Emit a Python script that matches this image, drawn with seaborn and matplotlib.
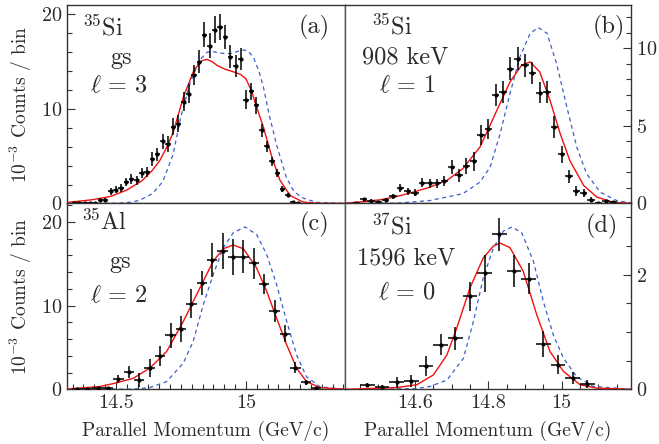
import numpy as np
import pandas as pd
import matplotlib
matplotlib.use("Agg")
import matplotlib.pyplot as plt
from matplotlib.ticker import MultipleLocator, FixedLocator
import seaborn as sns

# ---------------- data ----------------
# (a) 35Si gs, l=3
a_x = [14.34, 14.36, 14.38, 14.40, 14.42, 14.44, 14.46, 14.48, 14.50, 14.52, 14.54, 14.56,
       14.58, 14.60, 14.62, 14.64, 14.66, 14.68, 14.70, 14.72, 14.74, 14.76, 14.78, 14.80,
       14.82, 14.84, 14.86, 14.88, 14.90, 14.92, 14.94, 14.96, 14.98, 15.00, 15.02, 15.04,
       15.06, 15.08, 15.10, 15.12, 15.14, 15.16, 15.18, 15.20]
a_y = [0.0, 0.0, 0.05, 0.05, 0.1, 0.35, 0.4, 1.3, 1.45, 1.65, 2.3, 2.6,
       2.45, 3.2, 3.35, 4.7, 5.2, 6.6, 6.3, 8.1, 8.45, 10.75, 11.6, 13.6,
       15.0, 17.85, 16.7, 18.4, 18.65, 17.6, 15.55, 14.55, 15.3, 11.0, 11.85, 10.4,
       7.75, 6.05, 4.45, 3.2, 1.5, 0.95, 0.15, 0.0]
a_err = [0.05, 0.05, 0.08, 0.08, 0.1, 0.2, 0.2, 0.35, 0.35, 0.4, 0.45, 0.5,
         0.5, 0.55, 0.55, 0.7, 0.7, 0.8, 0.8, 0.9, 0.9, 1.0, 1.0, 1.1,
         1.2, 1.3, 1.3, 1.4, 1.4, 1.3, 1.2, 1.2, 1.2, 1.0, 0.9, 0.9,
         0.7, 0.6, 0.45, 0.4, 0.3, 0.2, 0.1, 0.05]
a_red_x = [14.312, 14.36, 14.41, 14.48, 14.54, 14.60, 14.64, 14.67, 14.70, 14.72, 14.76, 14.80,
           14.83, 14.85, 14.87, 14.89, 14.92, 14.95, 14.98, 15.00, 15.02, 15.04, 15.067, 15.10,
           15.13, 15.17, 15.22, 15.28, 15.381]
a_red_y = [0.12, 0.25, 0.4, 0.75, 1.4, 2.4, 3.5, 4.6, 6.2, 7.5, 11.3, 14.1,
           15.1, 15.25, 15.0, 14.6, 14.2, 13.95, 13.65, 13.2, 12.0, 10.3, 8.1, 4.9,
           2.5, 0.85, 0.15, 0.02, 0.0]
a_blue_x = [14.312, 14.50, 14.55, 14.59, 14.64, 14.68, 14.72, 14.75, 14.785, 14.82, 14.85, 14.87,
            14.90, 14.94, 14.97, 14.99, 15.01, 15.03, 15.05, 15.067, 15.09, 15.12, 15.155, 15.18,
            15.21, 15.27, 15.381]
a_blue_y = [0.0, 0.02, 0.12, 0.32, 1.03, 2.3, 5.2, 9.2, 12.7, 15.1, 16.0, 16.1,
            15.9, 15.85, 16.1, 16.25, 16.1, 15.4, 14.0, 12.35, 9.3, 6.0, 2.8, 1.5,
            0.67, 0.12, 0.0]

# (b) 35Si 908 keV, l=1
b_x = [14.44, 14.46, 14.48, 14.50, 14.52, 14.54, 14.56, 14.58, 14.60, 14.62, 14.64, 14.66,
       14.68, 14.70, 14.72, 14.74, 14.76, 14.78, 14.80, 14.82, 14.84, 14.86, 14.88, 14.90,
       14.92, 14.94, 14.96, 14.98, 15.00, 15.02, 15.04, 15.06, 15.08, 15.10, 15.12, 15.14]
b_y = [0.05, 0.26, 0.19, 0.09, 0.24, 0.47, 1.01, 0.8, 0.69, 1.34, 1.31, 1.31,
       1.44, 2.35, 1.81, 2.41, 2.71, 4.44, 4.83, 6.98, 7.2, 8.7, 9.35, 8.92,
       8.42, 7.15, 7.2, 4.93, 3.17, 1.75, 0.8, 0.69, 0.24, 0.05, 0.13, 0.09]
b_err = [0.05, 0.1, 0.1, 0.08, 0.1, 0.15, 0.25, 0.22, 0.22, 0.3, 0.3, 0.3,
         0.32, 0.43, 0.4, 0.5, 0.6, 0.65, 0.65, 0.7, 0.7, 0.75, 0.75, 0.75,
         0.7, 0.7, 0.7, 0.7, 0.55, 0.4, 0.3, 0.25, 0.15, 0.05, 0.1, 0.08]
b_red_x = [14.409, 14.46, 14.505, 14.55, 14.595, 14.64, 14.687, 14.73, 14.777, 14.80, 14.823,
           14.859, 14.891, 14.914, 14.94, 14.968, 14.996, 15.022, 15.06, 15.096, 15.141, 15.189]
b_red_y = [0.02, 0.12, 0.24, 0.45, 0.73, 1.05, 1.49, 2.24, 3.64, 4.8, 6.0,
           7.84, 8.92, 9.13, 8.49, 6.66, 4.5, 2.78, 1.16, 0.41, 0.08, 0.01]
b_blue_x = [14.409, 14.55, 14.64, 14.73, 14.777, 14.805, 14.832, 14.859, 14.886, 14.914, 14.936,
            14.96, 14.986, 15.014, 15.041, 15.068, 15.105, 15.15, 15.189]
b_blue_y = [0.0, 0.02, 0.19, 0.63, 1.38, 2.35, 4.5, 7.09, 9.46, 10.97, 11.35,
            10.97, 9.03, 6.23, 3.64, 1.92, 0.73, 0.19, 0.03]

# (c) 35Al gs, l=2
c_x = [14.35, 14.39, 14.43, 14.47, 14.51, 14.55, 14.59, 14.63, 14.67, 14.71, 14.75, 14.79,
       14.83, 14.87, 14.91, 14.95, 14.99, 15.03, 15.07, 15.11, 15.15, 15.19, 15.23, 15.27]
c_y = [0.0, 0.05, 0.12, 0.1, 1.2, 2.04, 1.12, 2.52, 4.0, 6.44, 7.2, 10.24,
       12.72, 15.44, 16.52, 15.8, 15.85, 15.04, 12.6, 9.32, 6.64, 2.6, 0.84, 0.12]
c_err = [0.05, 0.08, 0.1, 0.1, 0.5, 0.7, 0.86, 1.06, 1.2, 1.5, 1.6, 1.7,
         1.4, 2.0, 2.2, 2.2, 2.0, 1.9, 1.2, 1.3, 1.0, 0.7, 0.3, 0.1]
c_red_x = [14.312, 14.438, 14.50, 14.567, 14.63, 14.695, 14.759, 14.823, 14.874, 14.913,
           14.951, 14.99, 15.041, 15.08, 15.118, 15.157, 15.195, 15.233, 15.285, 15.381]
c_red_y = [0.04, 0.32, 0.75, 1.32, 2.52, 4.51, 8.1, 12.1, 15.3, 16.8,
           17.24, 16.8, 14.5, 11.7, 8.5, 5.3, 2.52, 0.92, 0.2, 0.0]
c_blue_x = [14.312, 14.567, 14.63, 14.695, 14.759, 14.797, 14.836, 14.874, 14.913, 14.951,
            14.996, 15.041, 15.08, 15.118, 15.157, 15.195, 15.233, 15.285, 15.381]
c_blue_y = [0.0, 0.02, 0.2, 0.92, 3.12, 5.7, 10.1, 13.7, 16.9, 18.7,
            19.4, 18.5, 16.1, 12.5, 8.1, 4.1, 1.5, 0.3, 0.0]

# (d) 37Si 1596 keV, l=0
d_x = [14.47, 14.51, 14.55, 14.59, 14.63, 14.67, 14.71, 14.75, 14.79, 14.83, 14.87, 14.91,
       14.95, 14.99, 15.03, 15.07]
d_y = [0.075, 0.035, 0.12, 0.145, 0.41, 0.78, 0.89, 1.62, 2.02, 2.70, 2.07, 1.93,
       0.79, 0.43, 0.2, 0.1]
d_err = [0.04, 0.04, 0.1, 0.1, 0.17, 0.18, 0.2, 0.25, 0.32, 0.29, 0.28, 0.27,
         0.23, 0.17, 0.1, 0.07]
d_red_x = [14.409, 14.55, 14.605, 14.65, 14.687, 14.714, 14.75, 14.786, 14.814, 14.832,
           14.859, 14.895, 14.932, 14.968, 15.005, 15.05, 15.096, 15.189]
d_red_y = [0.0, 0.03, 0.08, 0.25, 0.6, 1.07, 1.77, 2.29, 2.5, 2.55,
           2.47, 2.06, 1.3, 0.66, 0.31, 0.08, 0.02, 0.0]
d_blue_x = [14.409, 14.60, 14.641, 14.687, 14.732, 14.759, 14.786, 14.814, 14.841, 14.864,
            14.891, 14.923, 14.95, 14.977, 15.005, 15.041, 15.086, 15.189]
d_blue_y = [0.0, 0.01, 0.05, 0.16, 0.54, 1.18, 1.94, 2.47, 2.76, 2.83,
            2.73, 2.23, 1.53, 0.95, 0.54, 0.22, 0.05, 0.0]

xerr_a, xerr_b, xerr_c, xerr_d = 0.01, 0.01, 0.02, 0.02

labels_a = [r"$^{35}$Si", "gs", r"$\ell\,=\,3$", "(a)"]
labels_b = [r"$^{35}$Si", "908 keV", r"$\ell\,=\,1$", "(b)"]
labels_c = [r"$^{35}$Al", "gs", r"$\ell\,=\,2$", "(c)"]
labels_d = [r"$^{37}$Si", "1596 keV", r"$\ell\,=\,0$", "(d)"]

xlabel = "Parallel Momentum (GeV/c)"
ylabel = r"10$^{-3}$ Counts / bin"

# ---------------- style ----------------
sns.set_theme(style="ticks")
plt.rcParams["font.family"] = ["cmr10", "DejaVu Serif"]
plt.rcParams["mathtext.fontset"] = "cm"
plt.rcParams["axes.formatter.use_mathtext"] = True
plt.rcParams["axes.unicode_minus"] = False

TXT = "#2a2a2a"
RED = "#f01010"
BLUE = "#3a5fc8"

W, H = 659, 444
fig = plt.figure(figsize=(W / 100, H / 100), dpi=100)

xl, xm, xr = 67 / W, 345 / W, 631 / W
yb, ym, yt = 1 - 389.3 / H, 1 - 203.5 / H, 1 - 5 / H

ax_a = fig.add_axes([xl, ym, xm - xl, yt - ym])
ax_b = fig.add_axes([xm, ym, xr - xm, yt - ym])
ax_c = fig.add_axes([xl, yb, xm - xl, ym - yb])
ax_d = fig.add_axes([xm, yb, xr - xm, ym - yb])

panels = [
    (ax_a, a_x, a_y, a_err, xerr_a, a_red_x, a_red_y, a_blue_x, a_blue_y, labels_a),
    (ax_b, b_x, b_y, b_err, xerr_b, b_red_x, b_red_y, b_blue_x, b_blue_y, labels_b),
    (ax_c, c_x, c_y, c_err, xerr_c, c_red_x, c_red_y, c_blue_x, c_blue_y, labels_c),
    (ax_d, d_x, d_y, d_err, xerr_d, d_red_x, d_red_y, d_blue_x, d_blue_y, labels_d),
]

for ax, px, py, pe, xe, rx, ry, bx, by, labs in panels:
    sns.lineplot(x=bx, y=by, ax=ax, color=BLUE, lw=0.9, linestyle=(0, (3.2, 2.8)),
                 sort=False, estimator=None, zorder=2)
    sns.lineplot(x=rx, y=ry, ax=ax, color=RED, lw=1.0, sort=False, estimator=None, zorder=3)
    ax.errorbar(px, py, yerr=pe, xerr=xe, fmt="o", ms=2.0, color="black",
                ecolor="black", elinewidth=1.1, capsize=0, zorder=4)
    for s in ax.spines.values():
        s.set_color("#333333")
        s.set_linewidth(1.0)
    ax.tick_params(which="both", direction="in", colors="#333333", labelcolor=TXT,
                   labelsize=14.5, width=0.8)
    ax.tick_params(which="major", length=6)
    ax.tick_params(which="minor", length=3.5)
    ax.set_xlabel("")
    ax.set_ylabel("")

# left column
for ax in (ax_a, ax_c):
    ax.set_xlim(14.312, 15.381)
    ax.xaxis.set_major_locator(FixedLocator([14.5, 15.0]))
    ax.xaxis.set_minor_locator(MultipleLocator(0.5 / 12))
    ax.yaxis.set_major_locator(MultipleLocator(10))
    ax.yaxis.set_minor_locator(MultipleLocator(2))
    ax.set_ylabel(ylabel, fontsize=14, color=TXT, labelpad=5)
ax_a.set_ylim(0, 21.0)
ax_c.set_ylim(0, 22.2)

# right column
for ax in (ax_b, ax_d):
    ax.set_xlim(14.409, 15.189)
    ax.xaxis.set_major_locator(MultipleLocator(0.2))
    ax.xaxis.set_minor_locator(MultipleLocator(0.05))
    ax.yaxis.tick_right()
    ax.tick_params(axis="y", which="both", left=False, right=True)
ax_b.set_ylim(0, 12.8)
ax_b.yaxis.set_major_locator(MultipleLocator(5))
ax_b.yaxis.set_minor_locator(MultipleLocator(1))
ax_d.set_ylim(0, 3.24)
ax_d.yaxis.set_major_locator(MultipleLocator(2))
ax_d.yaxis.set_minor_locator(MultipleLocator(0.5))

for ax in (ax_a, ax_b):
    ax.tick_params(axis="x", which="both", bottom=False, labelbottom=False)
for ax in (ax_c, ax_d):
    ax.set_xlabel(xlabel, fontsize=14, color=TXT, labelpad=6)
    ax.xaxis.set_major_formatter(matplotlib.ticker.FuncFormatter(lambda v, p: f"{v:g}"))
ax_b.spines["left"].set_color("#555555")
ax_d.spines["left"].set_color("#555555")

# annotations (figure pixel coordinates)
def put(x, y, s, size=17.5):
    fig.text(x / W, 1 - y / H, s, ha="center", va="center", fontsize=size, color=TXT)

pos_a = [(103, 27), (121, 58), (119, 86), (314, 27)]
pos_b = [(392, 26), (405, 57), (407, 86), (609, 27)]
pos_c = [(104, 222), (120, 262), (119, 296), (314, 224)]
pos_d = [(392, 226), (406, 258), (407, 293), (602, 226)]
for labs, poss in ((labels_a, pos_a), (labels_b, pos_b), (labels_c, pos_c), (labels_d, pos_d)):
    for s, (x, y) in zip(labs, poss):
        put(x, y, s)

fig.savefig("out.png", dpi=100)
